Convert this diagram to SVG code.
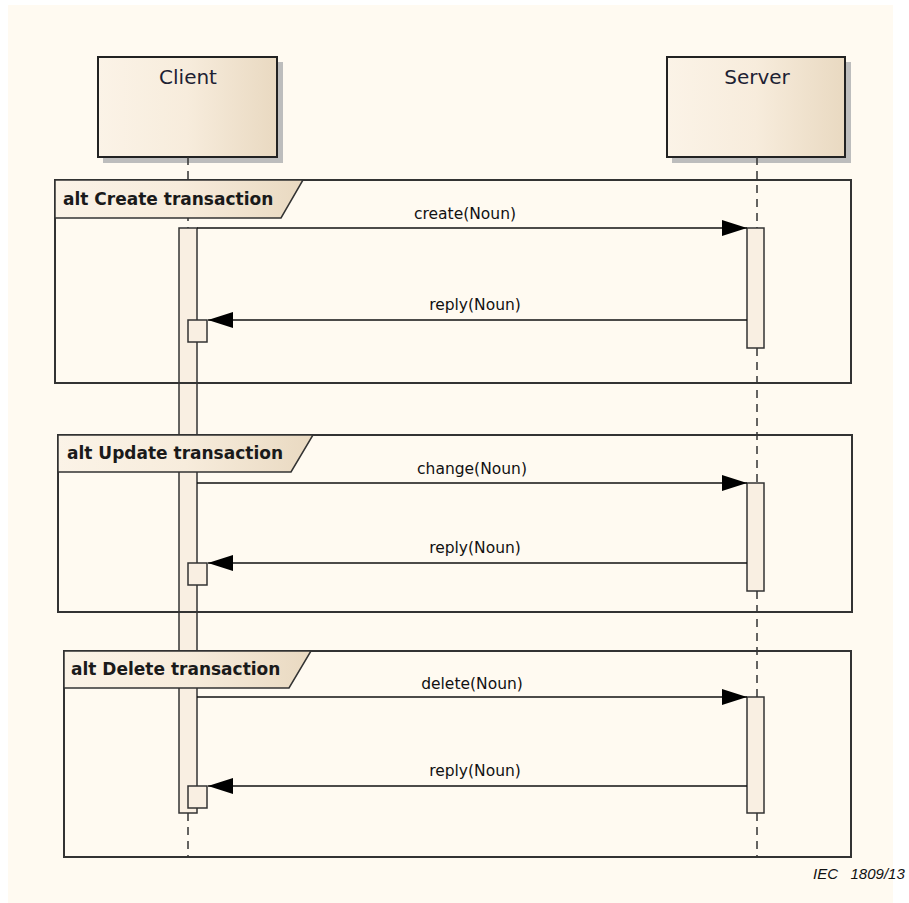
<svg xmlns="http://www.w3.org/2000/svg" width="909" height="903" viewBox="0 0 909 903">
<defs>
<linearGradient id="g" x1="0" y1="0" x2="1" y2="0">
<stop offset="0" stop-color="#fbf3e7"/>
<stop offset="0.5" stop-color="#f7ecdc"/>
<stop offset="1" stop-color="#e9d9c1"/>
</linearGradient>
<marker id="ah" markerWidth="26" markerHeight="18" refX="25" refY="8" orient="auto" markerUnits="userSpaceOnUse">
<path d="M0,0 L25,8 L0,16 Z" fill="#000"/>
</marker>
</defs>
<style>
.lbl{font-family:"DejaVu Sans",sans-serif;font-size:15.5px;fill:#111;text-anchor:middle}
.name{font-family:"DejaVu Sans",sans-serif;font-size:20px;fill:#1e2233;text-anchor:middle}
.tab{font-family:"DejaVu Sans",sans-serif;font-weight:bold;font-size:17px;fill:#1a1a1a}
.frame{fill:none;stroke:#333;stroke-width:2}
.tabshape{fill:url(#g);stroke:#333;stroke-width:1.5}
.box{fill:url(#g);stroke:#222;stroke-width:2}
.shadow{fill:#bdbdbd}
.bar{fill:#f9efe2;stroke:#333;stroke-width:1.5}
.life{stroke:#333;stroke-width:1.5;stroke-dasharray:8,6;fill:none}
.msg{stroke:#111;stroke-width:1.5;fill:none;marker-end:url(#ah)}
</style>
<rect x="0" y="0" width="909" height="903" fill="#ffffff"/>
<rect x="8" y="5" width="885" height="898" fill="#fffaf1"/>

<g id="client">
<rect class="shadow" x="103" y="62" width="180" height="101"/>
<rect class="box" x="98" y="57" width="179" height="100"/>
<text class="name" x="188" y="84">Client</text>
</g>
<g id="server">
<rect class="shadow" x="672" y="62" width="179" height="101"/>
<rect class="box" x="667" y="57" width="178" height="100"/>
<text class="name" x="757" y="84">Server</text>
</g>

<g id="lifelines">
<line class="life" x1="188" y1="157" x2="188" y2="228"/>
<line class="life" x1="188" y1="813" x2="188" y2="857"/>
<line class="life" x1="757" y1="157" x2="757" y2="228"/>
<line class="life" x1="757" y1="348" x2="757" y2="483"/>
<line class="life" x1="757" y1="591" x2="757" y2="697"/>
<line class="life" x1="757" y1="813" x2="757" y2="857"/>
</g>

<g id="client-activation">
<rect class="bar" x="179" y="228" width="18" height="585"/>
<rect class="bar" x="188" y="320" width="19" height="22"/>
<rect class="bar" x="188" y="563" width="19" height="22"/>
<rect class="bar" x="188" y="786" width="19" height="22"/>
</g>
<g id="server-activation">
<rect class="bar" x="747" y="228" width="17" height="120"/>
<rect class="bar" x="747" y="483" width="17" height="108"/>
<rect class="bar" x="747" y="697" width="17" height="116"/>
</g>

<g id="frame-create">
<rect class="frame" x="55" y="180" width="796" height="203"/>
<path class="tabshape" d="M55,180 L303,180 L281,218 L55,218 Z"/>
<text class="tab" x="63" y="205">alt Create transaction</text>
</g>
<g id="frame-update">
<rect class="frame" x="58" y="435" width="794" height="177"/>
<path class="tabshape" d="M58,435 L313,435 L291,472 L58,472 Z"/>
<text class="tab" x="67" y="459">alt Update transaction</text>
</g>
<g id="frame-delete">
<rect class="frame" x="64" y="651" width="787" height="206"/>
<path class="tabshape" d="M64,651 L311,651 L289,688 L64,688 Z"/>
<text class="tab" x="71" y="675">alt Delete transaction</text>
</g>

<g id="connectors">
<line class="msg" x1="197" y1="228" x2="747" y2="228"/>
<text class="lbl" x="465" y="219">create(Noun)</text>
<line class="msg" x1="747" y1="320" x2="208" y2="320"/>
<text class="lbl" x="475" y="310">reply(Noun)</text>
<line class="msg" x1="197" y1="483" x2="747" y2="483"/>
<text class="lbl" x="472" y="474">change(Noun)</text>
<line class="msg" x1="747" y1="563" x2="208" y2="563"/>
<text class="lbl" x="475" y="553">reply(Noun)</text>
<line class="msg" x1="197" y1="697" x2="747" y2="697"/>
<text class="lbl" x="472" y="689">delete(Noun)</text>
<line class="msg" x1="747" y1="786" x2="208" y2="786"/>
<text class="lbl" x="475" y="776">reply(Noun)</text>
</g>

<text x="813" y="879" font-family="Liberation Sans, Arial, sans-serif" font-style="italic" font-size="15" fill="#111" xml:space="preserve">IEC   1809/13</text>
</svg>
